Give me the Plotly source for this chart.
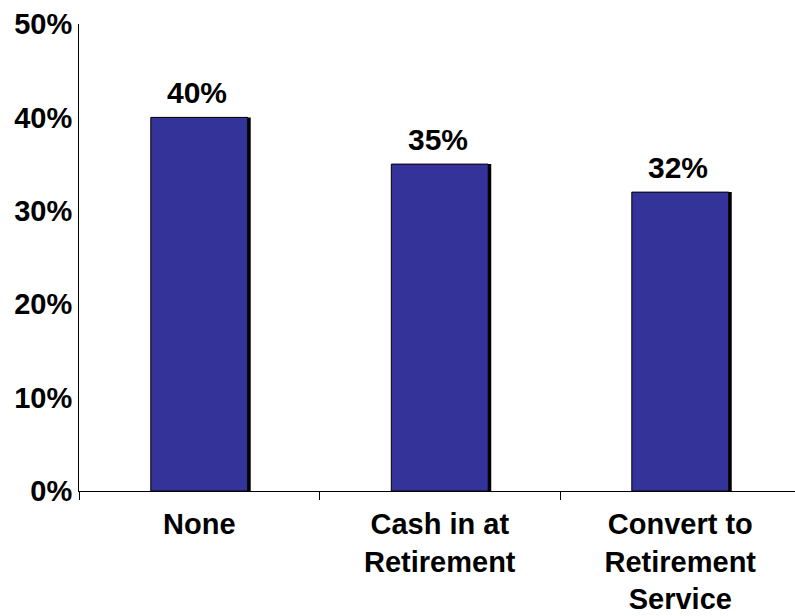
import plotly.graph_objects as go

categories = ["None", "Cash in at<br>Retirement", "Convert to<br>Retirement<br>Service"]
values = [40, 35, 32]
value_labels = ["40%", "35%", "32%"]
y_tick_vals = [0, 10, 20, 30, 40, 50]
y_tick_text = ["0%", "10%", "20%", "30%", "40%", "50%"]

FONT = "Liberation Sans, Arial, sans-serif"
bar_w = 0.403
shadow_shift = 0.0125

fig = go.Figure()
# shadow (dark right edge)
fig.add_trace(go.Bar(
    x=categories, y=values, width=bar_w, offset=-bar_w / 2 + shadow_shift,
    marker=dict(color="#000000", line=dict(width=0)),
    hoverinfo="skip", showlegend=False,
))
fig.add_trace(go.Bar(
    x=categories, y=values, width=bar_w, offset=-bar_w / 2,
    marker=dict(color="#333399", line=dict(color="#000000", width=1)),
    showlegend=False,
))
for c, v, t in zip(categories, values, value_labels):
    fig.add_annotation(
        x=c, y=v, text="<b>" + t + "</b>", showarrow=False,
        xanchor="center", yanchor="bottom", yshift=6, xshift=-2,
        font=dict(family=FONT, size=30, color="#000000"),
    )

fig.update_layout(
    width=795, height=616,
    margin=dict(l=79, r=0, t=24, b=125),
    paper_bgcolor="white", plot_bgcolor="white",
    barmode="overlay",
    font=dict(family=FONT, color="#000000"),
    xaxis=dict(
        range=[-0.5, 2.477], showline=True, linecolor="#000000", linewidth=1,
        ticks="outside", tickson="boundaries", ticklen=8, tickcolor="#000000",
        tickvals=categories, ticktext=["<b>" + c + "</b>" for c in categories],
        tickfont=dict(family=FONT, size=29, color="#000000"),
        ticklabelstandoff=7,
        showgrid=False, zeroline=False, automargin=False,
    ),
    yaxis=dict(
        range=[0, 50], showline=True, linecolor="#000000", linewidth=1,
        tickvals=y_tick_vals, ticktext=["<b>" + t + "</b>" for t in y_tick_text], ticks="",
        tickfont=dict(family=FONT, size=29, color="#000000"),
        showgrid=False, zeroline=False, automargin=False,
    ),
)

fig.write_html("out.html", post_script="document.body.style.margin='0';",
               config={"displayModeBar": False})
